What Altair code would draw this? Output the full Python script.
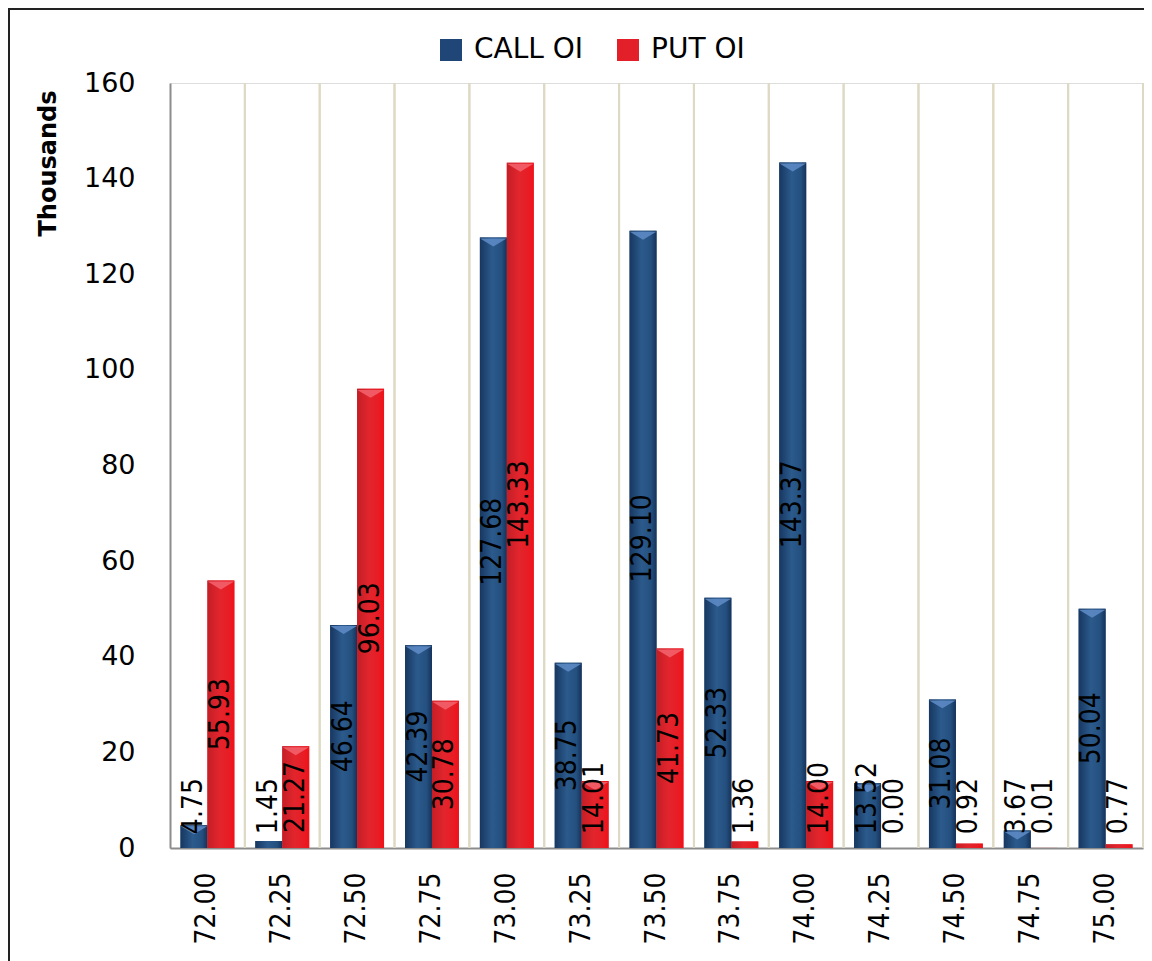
import altair as alt
import pandas as pd

strikes = ["72.00", "72.25", "72.50", "72.75", "73.00", "73.25", "73.50",
           "73.75", "74.00", "74.25", "74.50", "74.75", "75.00"]
call_oi = [4.75, 1.45, 46.64, 42.39, 127.68, 38.75, 129.10, 52.33, 143.37, 13.52, 31.08, 3.67, 50.04]
put_oi = [55.93, 21.27, 96.03, 30.78, 143.33, 14.01, 41.73, 1.36, 14.00, 0.00, 0.92, 0.01, 0.77]
series = ["CALL OI", "PUT OI"]

rows = []
for s, c, p in zip(strikes, call_oi, put_oi):
    rows.append({"strike": s, "series": "CALL OI", "v": c, "label": f"{c:.2f}"})
    rows.append({"strike": s, "series": "PUT OI", "v": p, "label": f"{p:.2f}"})
df = pd.DataFrame(rows)

W, H = 973, 765
FONT = "DejaVu Sans"
COND = "DejaVu Sans Condensed, Liberation Sans Narrow, DejaVu Sans, sans-serif"

xscale = alt.Scale(domain=strikes, paddingInner=0, paddingOuter=0)
xoff = alt.XOffset("series:N", scale=alt.Scale(domain=series, paddingInner=0, paddingOuter=0.39))
yscale = alt.Scale(domain=[0, 160])

base = alt.Chart(df)

grid = base.mark_rule(color="#ddd9c3", strokeWidth=2).encode(
    x=alt.X("strike:N", scale=xscale, bandPosition=1),
    y=alt.value(0),
    y2=alt.value(H),
)

xaxis = alt.Axis(title=None, labelAngle=270, labelAlign="right", labelBaseline="middle",
                 labelPadding=24, ticks=False, domainColor="#8c8c8c", domainWidth=2,
                 labelFont=COND, labelFontSize=28, labelColor="black")
yaxis = alt.Axis(title="Thousands", values=[0, 20, 40, 60, 80, 100, 120, 140, 160],
                 grid=False, ticks=False, domainColor="#8c8c8c", domainWidth=2,
                 labelFont=FONT, labelFontSize=27, labelColor="black", labelPadding=35,
                 titleFont=FONT, titleFontSize=24, titleFontWeight="bold", titleColor="black",
                 titleAngle=270, titleAlign="right", titleBaseline="middle",
                 titleX=-122, titleY=7)

legend_bars = base.mark_bar().encode(
    x=alt.X("strike:N", scale=xscale, axis=xaxis),
    xOffset=xoff,
    y=alt.Y("v:Q", scale=yscale, axis=yaxis),
    color=alt.Color("series:N", scale=alt.Scale(domain=series, range=["#1f4677", "#e3202a"]),
                    legend=alt.Legend(title=None, orient="none", legendX=267, legendY=-47,
                                      direction="horizontal", symbolType="square",
                                      symbolSize=484, symbolStrokeWidth=0, labelFont=FONT,
                                      labelFontSize=28, labelColor="black", labelOffset=9,
                                      columnPadding=30)),
)

blue_grad = alt.Gradient(gradient="linear", x1=0, x2=1, y1=0, y2=0,
                         stops=[alt.GradientStop(color="#173760", offset=0),
                                alt.GradientStop(color="#2b5a8c", offset=0.45),
                                alt.GradientStop(color="#24507f", offset=0.8),
                                alt.GradientStop(color="#15325a", offset=1)])
red_grad = alt.Gradient(gradient="linear", x1=0, x2=1, y1=0, y2=0,
                        stops=[alt.GradientStop(color="#c41e26", offset=0),
                               alt.GradientStop(color="#e2252d", offset=0.45),
                               alt.GradientStop(color="#e81c24", offset=0.8),
                               alt.GradientStop(color="#f21018", offset=1)])

call_bars = base.transform_filter(alt.datum.series == "CALL OI").mark_bar(color=blue_grad).encode(
    x=alt.X("strike:N", scale=xscale), xOffset=xoff, y=alt.Y("v:Q", scale=yscale))
put_bars = base.transform_filter(alt.datum.series == "PUT OI").mark_bar(color=red_grad).encode(
    x=alt.X("strike:N", scale=xscale), xOffset=xoff, y=alt.Y("v:Q", scale=yscale))

bevel_shape = "M-1,-0.3L1,-0.3L0,0.3Z"
call_bevel = base.transform_filter((alt.datum.series == "CALL OI") & (alt.datum.v > 2)).mark_point(
    shape=bevel_shape, filled=True, size=700, color="#5d8ac4", opacity=0.9, yOffset=5).encode(
    x=alt.X("strike:N", scale=xscale), xOffset=xoff, y=alt.Y("v:Q", scale=yscale))
put_bevel = base.transform_filter((alt.datum.series == "PUT OI") & (alt.datum.v > 2)).mark_point(
    shape=bevel_shape, filled=True, size=700, color="#f2606a", opacity=0.9, yOffset=5).encode(
    x=alt.X("strike:N", scale=xscale), xOffset=xoff, y=alt.Y("v:Q", scale=yscale))

labels = base.transform_calculate(
    ly="max(datum.v / 2 - length(datum.label) * 1.5, 2.9)"
).mark_text(angle=270, align="left", baseline="middle", font=COND, fontSize=28, color="black").encode(
    x=alt.X("strike:N", scale=xscale), xOffset=xoff,
    y=alt.Y("ly:Q", scale=yscale), text="label:N")

border = alt.Chart(alt.Data(values=[{}])).mark_rect(fill=None, stroke="#222222", strokeWidth=2).encode(
    x=alt.value(-161), x2=alt.value(W + 60), y=alt.value(-74), y2=alt.value(H + 300))

chart = alt.layer(grid, legend_bars, call_bars, put_bars, call_bevel, put_bevel, labels, border).properties(
    width=W, height=H,
    autosize=alt.AutoSizeParams(type="none"),
    padding={"left": 162, "top": 75, "right": 1, "bottom": 115},
).configure_view(stroke=None).configure(background="white")

chart.save("out.html", embed_options={"renderer": "svg", "actions": False})
